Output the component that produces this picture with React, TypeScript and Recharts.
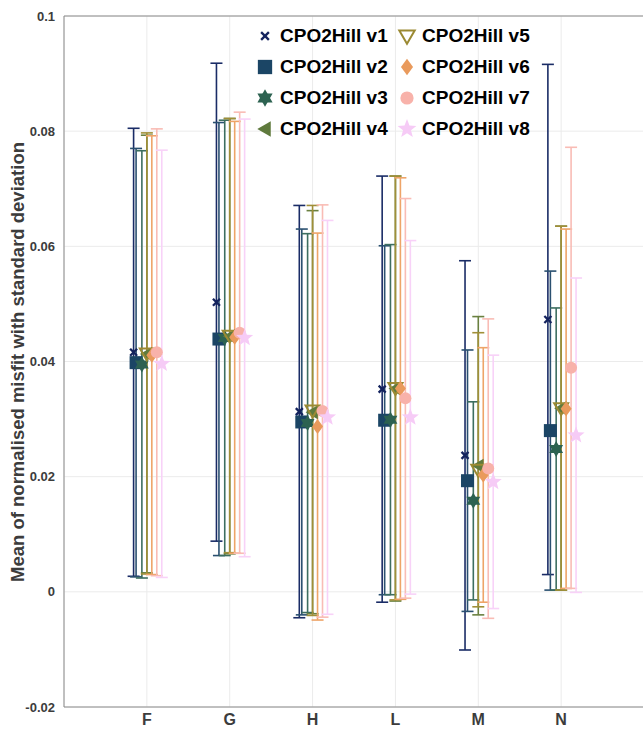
import React from 'react';
import {
  ScatterChart,
  Scatter,
  XAxis,
  YAxis,
  CartesianGrid,
  ErrorBar,
  Legend,
  Label,
  ReferenceLine,
} from 'recharts';

const categories = ['F', 'G', 'H', 'L', 'M', 'N'];
const yTicks = [-0.02, 0, 0.02, 0.04, 0.06, 0.08, 0.1];

const seriesNames = [
  'CPO2Hill v1',
  'CPO2Hill v2',
  'CPO2Hill v3',
  'CPO2Hill v4',
  'CPO2Hill v5',
  'CPO2Hill v6',
  'CPO2Hill v7',
  'CPO2Hill v8',
];

// mean values per category (F, G, H, L, M, N)
const v1Mean = [0.0416, 0.0503, 0.0313, 0.0352, 0.0237, 0.0473];
const v2Mean = [0.0398, 0.0439, 0.0295, 0.0298, 0.0193, 0.028];
const v3Mean = [0.0395, 0.0441, 0.0293, 0.0299, 0.0158, 0.0248];
const v4Mean = [0.0413, 0.0444, 0.0312, 0.0353, 0.0219, 0.0319];
const v5Mean = [0.0414, 0.0445, 0.0315, 0.0354, 0.0212, 0.0319];
const v6Mean = [0.0411, 0.0442, 0.0287, 0.0353, 0.0203, 0.0318];
const v7Mean = [0.0416, 0.045, 0.0314, 0.0336, 0.0214, 0.0389];
const v8Mean = [0.0396, 0.0441, 0.0303, 0.0303, 0.0191, 0.0272];

// standard deviations
const v1Std = [0.0389, 0.0415, 0.0358, 0.037, 0.0338, 0.0443];
const v2Std = [0.0372, 0.0376, 0.0335, 0.0303, 0.0227, 0.0277];
const v3Std = [0.0371, 0.0378, 0.0329, 0.0304, 0.0172, 0.0245];
const v4Std = [0.038, 0.0378, 0.035, 0.0369, 0.0259, 0.0316];
const v5Std = [0.0383, 0.0377, 0.0356, 0.0368, 0.0238, 0.0316];
const v6Std = [0.0381, 0.0375, 0.0336, 0.0366, 0.0221, 0.0312];
const v7Std = [0.0388, 0.0383, 0.0358, 0.0347, 0.026, 0.0383];
const v8Std = [0.0371, 0.038, 0.0342, 0.0307, 0.022, 0.0273];

const means = [v1Mean, v2Mean, v3Mean, v4Mean, v5Mean, v6Mean, v7Mean, v8Mean];
const stds = [v1Std, v2Std, v3Std, v4Std, v5Std, v6Std, v7Std, v8Std];

// horizontal shift of each series inside a category group
const offsets = [-0.16, -0.13, -0.06, 0, 0, 0.06, 0.12, 0.18];

const markerColors = ['#14235e', '#1b4565', '#2d6251', '#5f7a3d', '#9b8a33', '#e99a5c', '#f8b2aa', '#f6cbf6'];
const barColors = ['#1a2c66', '#2a5070', '#3d6e60', '#6a8040', '#a08f38', '#eea468', '#f9bcb5', '#f8d2f8'];
const kinds = ['cross', 'square', 'hexagram', 'triLeft', 'triDown', 'diamond', 'circle', 'star'];

const FONT = '"Liberation Sans", Arial, Helvetica, sans-serif';

function starPoints(cx: number, cy: number, outer: number, inner: number) {
  const pts: string[] = [];
  for (let i = 0; i < 10; i++) {
    const r = i % 2 === 0 ? outer : inner;
    const a = -Math.PI / 2 + (i * Math.PI) / 5;
    pts.push(`${cx + r * Math.cos(a)},${cy + r * Math.sin(a)}`);
  }
  return pts.join(' ');
}

function Marker({ kind, cx, cy, color, k = 1 }: { kind: string; cx: number; cy: number; color: string; k?: number }) {
  switch (kind) {
    case 'cross': {
      const d = 3.5 * k;
      return (
        <g stroke={color} strokeWidth={2.3}>
          <line x1={cx - d} y1={cy - d} x2={cx + d} y2={cy + d} />
          <line x1={cx - d} y1={cy + d} x2={cx + d} y2={cy - d} />
        </g>
      );
    }
    case 'square': {
      const h = 6.5 * k;
      return <rect x={cx - h} y={cy - h} width={2 * h} height={2 * h} fill={color} />;
    }
    case 'hexagram': {
      const r = 8 * k;
      const up = [0, 1, 2].map((i) => {
        const a = -Math.PI / 2 + (i * 2 * Math.PI) / 3;
        return `${cx + r * Math.cos(a)},${cy + r * Math.sin(a)}`;
      });
      const down = [0, 1, 2].map((i) => {
        const a = Math.PI / 2 + (i * 2 * Math.PI) / 3;
        return `${cx + r * Math.cos(a)},${cy + r * Math.sin(a)}`;
      });
      return (
        <g fill={color}>
          <polygon points={up.join(' ')} />
          <polygon points={down.join(' ')} />
        </g>
      );
    }
    case 'triLeft': {
      const s = 7 * k;
      return <polygon points={`${cx - s},${cy} ${cx + s * 0.75},${cy - s} ${cx + s * 0.75},${cy + s}`} fill={color} />;
    }
    case 'triDown': {
      const s = 7 * k;
      return (
        <polygon
          points={`${cx - s},${cy - s * 0.7} ${cx + s},${cy - s * 0.7} ${cx},${cy + s}`}
          fill="none"
          stroke={color}
          strokeWidth={2}
        />
      );
    }
    case 'diamond': {
      const w = 5.5 * k;
      const h = 7.5 * k;
      return <polygon points={`${cx},${cy - h} ${cx + w},${cy} ${cx},${cy + h} ${cx - w},${cy}`} fill={color} />;
    }
    case 'circle':
      return <circle cx={cx} cy={cy} r={6 * k} fill={color} />;
    default:
      return <polygon points={starPoints(cx, cy, 9 * k, 3.8 * k)} fill={color} />;
  }
}

function renderLegend() {
  return (
    <div
      style={{
        display: 'grid',
        gridTemplateColumns: '142px 142px',
        gridTemplateRows: 'repeat(4, 31px)',
        gridAutoFlow: 'column',
        fontFamily: FONT,
        fontWeight: 'bold',
        fontSize: 19,
        color: '#000',
      }}
    >
      {seriesNames.map((name, i) => (
        <div key={name} style={{ display: 'flex', alignItems: 'center', height: 31 }}>
          <svg width={22} height={24} style={{ marginRight: 3 }}>
            <Marker kind={kinds[i]} cx={10} cy={12} color={markerColors[i]} k={1.1} />
          </svg>
          <span style={{ whiteSpace: 'nowrap' }}>{name}</span>
        </div>
      ))}
    </div>
  );
}

function YLabel() {
  return (
    <text
      x={17}
      y={362}
      transform="rotate(-90 17 362)"
      textAnchor="middle"
      dominantBaseline="central"
      fontFamily={FONT}
      fontWeight="bold"
      fontSize={18.5}
      fill="#3c3c3c"
    >
      Mean of normalised misfit with standard deviation
    </text>
  );
}

export default function App() {
  const seriesData = means.map((m, s) =>
    categories.map((c, i) => ({ x: i + 1 + offsets[s], y: m[i], err: stds[s][i], cat: c }))
  );

  return (
    <div style={{ width: 643, height: 731, overflow: 'hidden' }}>
      <style>{'body{margin:0;overflow:hidden}'}</style>
      <ScatterChart width={644} height={731} margin={{ top: 16, right: 0, bottom: 0, left: 0 }}>
        <CartesianGrid stroke="#ebebeb" />
        <XAxis
          type="number"
          dataKey="x"
          domain={[0, 7]}
          ticks={[1, 2, 3, 4, 5, 6]}
          allowDataOverflow
          tickFormatter={(v) => categories[v - 1]}
          height={24}
          tickLine={false}
          tickSize={0}
          tickMargin={7}
          stroke="#8a8a8a"
          tick={{ fontFamily: FONT, fontWeight: 'bold', fontSize: 16, fill: '#3c3c3c' }}
        />
        <YAxis
          type="number"
          dataKey="y"
          domain={[-0.02, 0.1]}
          ticks={yTicks}
          allowDataOverflow
          width={64}
          tickLine={false}
          tickSize={0}
          tickMargin={9}
          tickFormatter={(v) => String(v)}
          stroke="#8a8a8a"
          tick={{ fontFamily: FONT, fontWeight: 'bold', fontSize: 13, fill: '#3c3c3c' }}
        >
          <Label content={<YLabel />} />
        </YAxis>
        <ReferenceLine y={0.1} stroke="#8a8a8a" />
        <Legend
          content={renderLegend}
          layout="horizontal"
          verticalAlign="middle"
          align="center"
          wrapperStyle={{ top: 20, left: 255, width: 300 }}
        />
        {seriesData.map((data, s) => (
          <Scatter
            key={seriesNames[s]}
            name={seriesNames[s]}
            data={data}
            isAnimationActive={false}
            shape={(p: any) => <Marker kind={kinds[s]} cx={p.cx} cy={p.cy} color={markerColors[s]} />}
          >
            <ErrorBar
              dataKey="err"
              direction="y"
              width={6}
              stroke={barColors[s]}
              strokeWidth={1.6}
              isAnimationActive={false}
            />
          </Scatter>
        ))}
      </ScatterChart>
    </div>
  );
}
